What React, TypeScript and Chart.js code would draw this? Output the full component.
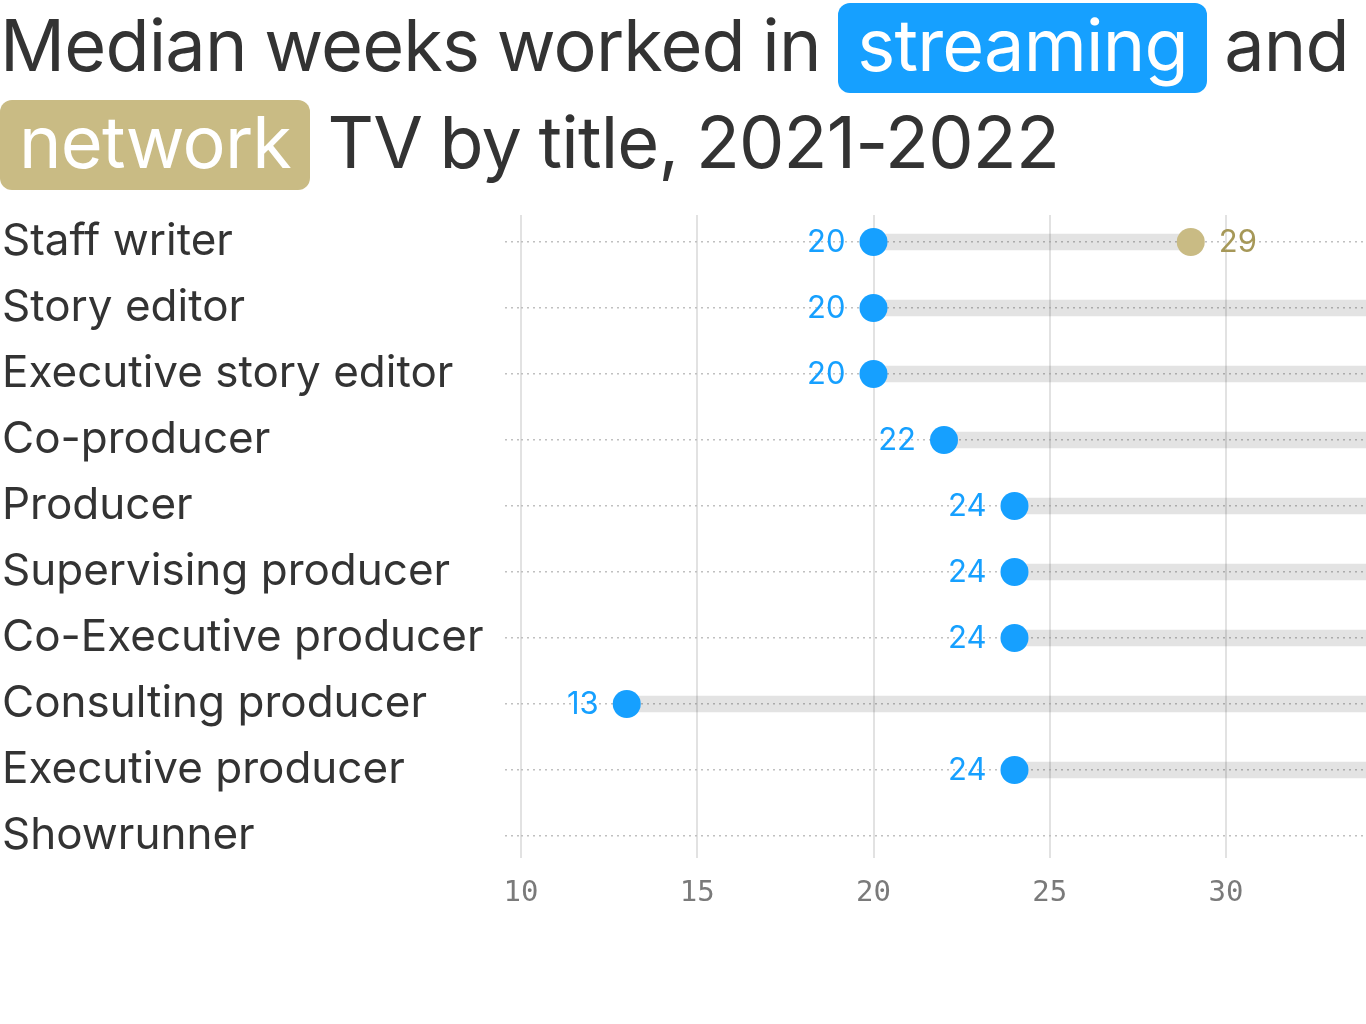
import React, { useEffect, useRef } from "react";
import { Chart, registerables } from "chart.js";

Chart.register(...registerables);

const categories = [
  "Staff writer",
  "Story editor",
  "Executive story editor",
  "Co-producer",
  "Producer",
  "Supervising producer",
  "Co-Executive producer",
  "Consulting producer",
  "Executive producer",
  "Showrunner",
];
// Values beyond the visible axis range (>34) are estimates; they are cut off in the reference.
const streaming: (number | null)[] = [20, 20, 20, 22, 24, 24, 24, 13, 24, null];
const network: (number | null)[] = [29, 36, 36, 37, 38, 38, 39, 38, 40, null];
const xTicks = [10, 15, 20, 25, 30];

const BLUE = "#16a0ff";
const GOLD = "#c9bb84";
const GOLD_TEXT = "#a69858";

const CANVAS_W = 1381;

const labelPlugin = {
  id: "dumbbellLabels",
  afterDatasetsDraw(chart: any) {
    const ctx = chart.ctx;
    ctx.save();
    ctx.font = "31px Inter";
    ctx.textBaseline = "middle";
    chart.data.datasets.forEach((ds: any, di: number) => {
      if (ds.type !== "scatter") return;
      const meta = chart.getDatasetMeta(di);
      meta.data.forEach((pt: any, i: number) => {
        const raw = ds.data[i];
        if (!raw || raw.x == null) return;
        if (ds.side === "left") {
          ctx.fillStyle = BLUE;
          ctx.textAlign = "right";
          ctx.fillText(String(raw.x), pt.x - 28, pt.y + 1);
        } else {
          ctx.fillStyle = GOLD_TEXT;
          ctx.textAlign = "left";
          ctx.fillText(String(raw.x), pt.x + 28, pt.y + 1);
        }
      });
    });
    ctx.restore();
  },
};

export default function App() {
  const ref = useRef<HTMLCanvasElement>(null);

  useEffect(() => {
    if (!ref.current) return;
    const barData = categories
      .map((_, i) => (streaming[i] != null && network[i] != null ? { x: [streaming[i], network[i]], y: i } : null))
      .filter((d) => d !== null);
    const streamData = categories
      .map((_, i) => (streaming[i] != null ? { x: streaming[i], y: i } : null))
      .filter((d) => d !== null);
    const networkData = categories
      .map((_, i) => (network[i] != null ? { x: network[i], y: i } : null))
      .filter((d) => d !== null);

    const chart = new Chart(ref.current, {
      type: "bar",
      data: {
        datasets: [
          {
            type: "scatter",
            side: "right",
            data: networkData,
            backgroundColor: GOLD,
            borderWidth: 0,
            pointRadius: 14,
            order: 1,
          } as any,
          {
            type: "scatter",
            side: "left",
            data: streamData,
            backgroundColor: BLUE,
            borderWidth: 0,
            pointRadius: 14,
            order: 0,
          } as any,
          {
            type: "bar",
            data: barData,
            backgroundColor: "rgba(0,0,0,0.11)",
            borderWidth: 0,
            barThickness: 16,
            order: 5,
          } as any,
        ],
      },
      options: {
        indexAxis: "y",
        animation: false,
        responsive: false,
        devicePixelRatio: 1,
        layout: { padding: { top: 215, bottom: 106, left: 2, right: 0 } },
        plugins: {
          legend: { display: false },
          tooltip: { enabled: false },
        },
        scales: {
          x: {
            type: "linear",
            min: 10,
            max: 34,
            offset: false,
            afterBuildTicks: (scale: any) => {
              scale.ticks = xTicks.map((v) => ({ value: v }));
            },
            afterFit: (scale: any) => {
              scale.height = 60;
              scale.paddingLeft = 0;
              scale.paddingRight = 0;
            },
            border: { display: false },
            grid: { color: "#e2e2e2", lineWidth: 2, drawTicks: false, offset: false },
            ticks: {
              padding: 18,
              color: "#7a7a7a",
              font: { family: "DejaVu Sans Mono", size: 29 },
            },
          },
          y: {
            type: "linear",
            reverse: true,
            min: -0.409,
            max: 9.333,
            offset: false,
            afterBuildTicks: (scale: any) => {
              scale.ticks = categories.map((_, i) => ({ value: i }));
            },
            afterFit: (scale: any) => {
              scale.width = 519;
            },
            border: { display: false, dash: [2, 4] },
            grid: {
              offset: false,
              color: "#c0c0c0",
              lineWidth: 1.5,
              tickBorderDash: [2, 4],
              tickLength: 16,
              tickColor: "#c0c0c0",
            } as any,
            ticks: {
              crossAlign: "far",
              color: "#333333",
              font: { family: "Inter", size: 44 },
              callback: (v: any) => categories[v as number] ?? "",
            },
          },
        },
      } as any,
      plugins: [labelPlugin],
    });
    return () => chart.destroy();
  }, []);

  const box = (bg: string): React.CSSProperties => ({
    display: "inline-block",
    background: bg,
    color: "#fff",
    borderRadius: 12,
    padding: "0 19px",
    lineHeight: "84px",
    height: 90,
    verticalAlign: "baseline",
    wordSpacing: 0,
  });

  return (
    <div style={{ position: "fixed", left: 0, top: 0, width: 1366, height: 1024, background: "#fff", overflow: "hidden" }}>
      <canvas
        ref={ref}
        width={CANVAS_W}
        height={1024}
        style={{ position: "absolute", left: 0, top: 0, width: CANVAS_W, height: 1024 }}
      />
      <div
        style={{
          position: "absolute",
          left: 0,
          top: -4,
          width: 1366,
          fontFamily: "Inter",
          fontSize: 72,
          letterSpacing: -0.8,
          wordSpacing: -2,
          color: "#333",
          lineHeight: "97px",
          whiteSpace: "nowrap",
        }}
      >
        <div>
          Median weeks worked in <span style={box(BLUE)}>streaming</span> and
        </div>
        <div>
          <span style={box(GOLD)}>network</span> TV by title, 2021-2022
        </div>
      </div>
    </div>
  );
}
